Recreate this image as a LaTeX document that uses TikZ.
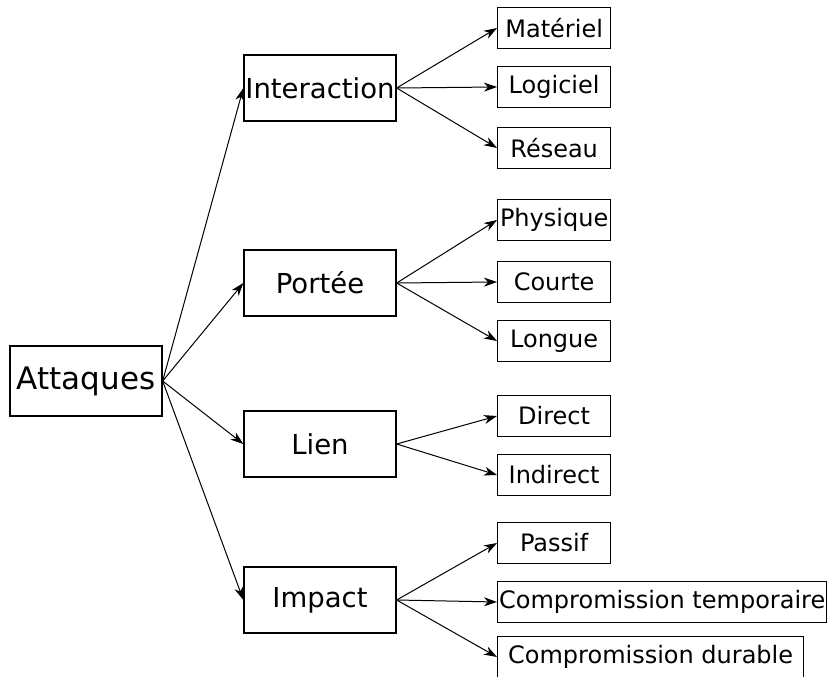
\documentclass[tikz,border=0pt]{standalone}
\usepackage{fontspec}
\setmainfont{DejaVu Sans}
\usetikzlibrary{arrows.meta}
\begin{document}
\begin{tikzpicture}[x=1pt,y=-1pt]
    \tikzstyle{root box}=[draw, line width=1.3pt, minimum width=152pt, minimum height=70pt, inner sep=1pt, font=\fontsize{31}{37}\selectfont];
    \tikzstyle{category box}=[draw, line width=1.3pt, minimum width=152pt, minimum height=66pt, inner sep=1pt, font=\fontsize{27.5}{33}\selectfont];
    \tikzstyle{leaf box}=[draw, line width=1.3pt, anchor=west, minimum width=113pt, minimum height=41pt, inner sep=1.5pt, font=\fontsize{24}{29}\selectfont];
    \tikzstyle{link}=[line width=1pt, -{Stealth[length=13pt,width=9pt,inset=4pt]}];

    \useasboundingbox (0,0) rectangle (828,677);

    \node[root box] (attaques) at (86,381) {Attaques};

    \node[category box] (interaction) at (320,88) {Interaction};
    \node[category box] (portee) at (320,283) {Portée};
    \node[category box] (lien) at (320,444) {Lien};
    \node[category box] (impact) at (320,600) {Impact};

    \node[leaf box] (materiel) at (497,28) {Matériel};
    \node[leaf box] (logiciel) at (497,87) {Logiciel};
    \node[leaf box] (reseau) at (497,148) {Réseau};

    \node[leaf box] (physique) at (497,220) {Physique};
    \node[leaf box] (courte) at (497,282) {Courte};
    \node[leaf box] (longue) at (497,341) {Longue};

    \node[leaf box] (direct) at (497,416) {Direct};
    \node[leaf box] (indirect) at (497,475) {Indirect};

    \node[leaf box] (passif) at (497,543) {Passif};
    \node[leaf box] (temporaire) at (497,602) {Compromission temporaire};
    \node[leaf box, minimum width=306pt] (durable) at (497,657) {Compromission durable};

    \draw[link] (attaques.east) -- (interaction.west);
    \draw[link] (attaques.east) -- (portee.west);
    \draw[link] (attaques.east) -- (lien.west);
    \draw[link] (attaques.east) -- (impact.west);

    \draw[link] (interaction.east) -- (materiel.west);
    \draw[link] (interaction.east) -- (logiciel.west);
    \draw[link] (interaction.east) -- (reseau.west);

    \draw[link] (portee.east) -- (physique.west);
    \draw[link] (portee.east) -- (courte.west);
    \draw[link] (portee.east) -- (longue.west);

    \draw[link] (lien.east) -- (direct.west);
    \draw[link] (lien.east) -- (indirect.west);

    \draw[link] (impact.east) -- (passif.west);
    \draw[link] (impact.east) -- (temporaire.west);
    \draw[link] (impact.east) -- (durable.west);

\end{tikzpicture}
\end{document}
